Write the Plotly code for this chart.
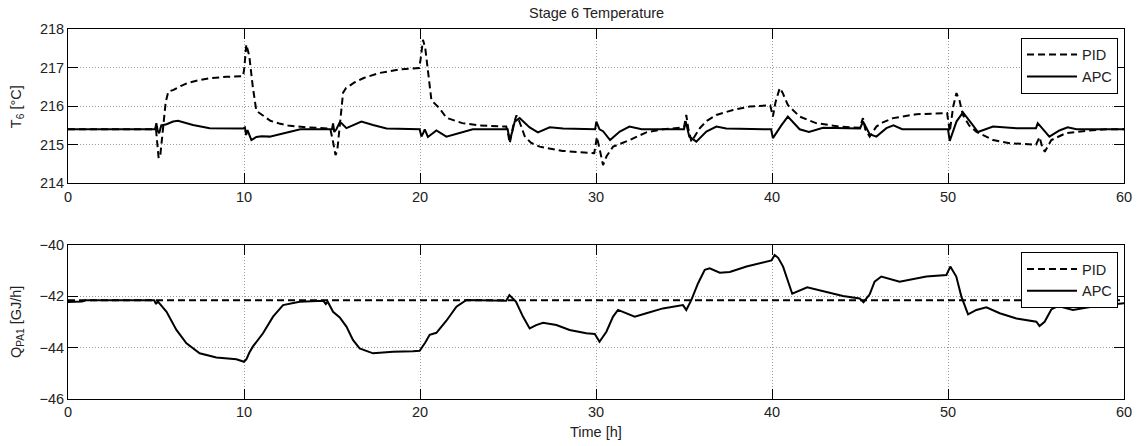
import plotly.graph_objects as go

# ---- Stage 6 temperature, PID control ----
t_T6_pid = [0, 5.0, 5.08, 5.15, 5.25, 5.4, 5.55, 5.7, 6.0, 6.4, 6.8, 7.4, 8.0, 9.0, 9.95,
            10.02, 10.13, 10.3, 10.5, 10.7, 10.95, 11.2, 11.5, 12.0, 12.5, 13.5, 14.9,
            15.05, 15.2, 15.3, 15.45, 15.63, 15.8, 16.3, 16.8, 17.7, 18.8, 19.95,
            20.03, 20.17, 20.3, 20.45, 20.65, 21.1, 21.5, 22.4, 23.4, 24.9,
            25.0, 25.1, 25.3, 25.48, 25.65, 25.95, 26.3, 26.8, 28.1, 29.9,
            30.05, 30.2, 30.4, 30.6, 30.97, 31.9, 32.86, 33.8, 34.75, 35.0,
            35.13, 35.25, 35.42, 35.6, 35.9, 36.3, 36.84, 37.78, 38.73, 39.9,
            40.05, 40.2, 40.44, 40.6, 40.9, 41.57, 42.5, 43.85, 44.98,
            45.17, 45.3, 45.55, 45.93, 46.3, 46.88, 48.2, 49.95,
            50.1, 50.3, 50.48, 50.65, 50.85, 51.2, 51.6, 52.56, 53.5, 55.0,
            55.2, 55.35, 55.5, 55.65, 55.87, 56.7, 57.85, 59.0, 60]
T6_pid = [215.4, 215.4, 215.0, 214.65, 214.75, 215.5, 216.1, 216.38, 216.42, 216.52, 216.6, 216.67, 216.72, 216.76, 216.78,
          217.0, 217.6, 217.3, 216.5, 215.88, 215.8, 215.72, 215.62, 215.55, 215.5, 215.45, 215.42,
          215.1, 214.73, 214.85, 215.6, 216.35, 216.47, 216.62, 216.73, 216.86, 216.95, 216.99,
          217.2, 217.72, 217.5, 216.9, 216.15, 215.95, 215.7, 215.56, 215.5, 215.47,
          215.3, 215.04, 215.5, 215.76, 215.6, 215.22, 215.05, 214.95, 214.84, 214.78,
          215.2, 214.9, 214.47, 214.7, 214.95, 215.12, 215.32, 215.4, 215.43, 215.45,
          215.77, 215.4, 215.08, 215.2, 215.43, 215.62, 215.77, 215.9, 215.99, 216.02,
          215.73, 216.1, 216.47, 216.35, 216.03, 215.73, 215.56, 215.47, 215.44,
          215.69, 215.4, 215.21, 215.47, 215.58, 215.69, 215.79, 215.82,
          215.34, 216.0, 216.34, 216.15, 215.77, 215.5, 215.34, 215.12, 215.04, 215.0,
          215.2, 214.95, 214.82, 214.95, 215.12, 215.3, 215.36, 215.4, 215.4]

# ---- Stage 6 temperature, APC ----
t_T6_apc = [0, 4.95, 5.02, 5.1, 5.18, 5.3, 5.6, 5.97, 6.25, 7.1, 8.05, 9.95,
            10.05, 10.12, 10.2, 10.42, 10.7, 11.0, 11.46, 12.4, 13.2, 15.0,
            15.06, 15.13, 15.25, 15.44, 15.53, 15.82, 16.2, 16.67, 17.33, 18.1, 19.98,
            20.08, 20.18, 20.27, 20.45, 20.7, 20.93, 21.5, 22.44, 23.0, 24.98,
            25.1, 25.25, 25.38, 25.66, 26.23, 26.7, 27.37, 28.13, 29.95,
            30.02, 30.2, 30.4, 30.8, 31.35, 31.9, 32.6, 35.0,
            35.1, 35.3, 35.7, 36.27, 36.84, 37.4, 39.95,
            40.05, 40.53, 40.9, 41.57, 42.1, 42.9, 45.0,
            45.17, 45.55, 45.93, 46.5, 46.9, 47.4, 50.0,
            50.1, 50.48, 50.85, 51.42, 51.7, 52.56, 53.9, 55.0,
            55.1, 55.76, 56.33, 56.8, 57.3, 60]
T6_apc = [215.4, 215.4, 215.56, 215.35, 215.3, 215.5, 215.53, 215.6, 215.62, 215.51, 215.43, 215.42,
          215.45, 215.25, 215.38, 215.12, 215.2, 215.22, 215.21, 215.32, 215.4, 215.4,
          215.55, 215.33, 215.4, 215.58, 215.56, 215.43, 215.5, 215.6, 215.51, 215.42, 215.4,
          215.21, 215.3, 215.4, 215.2, 215.3, 215.37, 215.21, 215.32, 215.4, 215.4,
          215.12, 215.35, 215.6, 215.69, 215.45, 215.32, 215.45, 215.42, 215.4,
          215.6, 215.4, 215.35, 215.12, 215.34, 215.47, 215.4, 215.4,
          215.6, 215.21, 215.08, 215.34, 215.47, 215.42, 215.4,
          215.17, 215.5, 215.73, 215.4, 215.33, 215.44, 215.42,
          215.6, 215.27, 215.21, 215.43, 215.5, 215.4, 215.4,
          215.1, 215.6, 215.84, 215.5, 215.33, 215.47, 215.43, 215.43,
          215.56, 215.21, 215.37, 215.45, 215.4, 215.4]

# ---- Pump-around duty Q_PA1 ----
t_Q_pid = [0, 60]
Q_pid = [-42.15, -42.15]

t_Q_apc = [0, 0.8, 1.0, 4.9, 5.0, 5.1, 5.6, 6.16, 6.73, 7.48, 8.43, 9.57, 10.0, 10.14, 10.3, 10.5,
           11.08, 11.65, 12.22, 13.16, 14.5, 14.65, 14.75, 15.06, 15.44, 15.82, 16.19, 16.57,
           17.33, 18.47, 19.6, 19.98, 20.3, 20.55, 20.93, 21.5, 22.07, 22.64, 24.9,
           25.08, 25.45, 25.85, 26.23, 26.6, 26.99, 27.75, 28.5, 29.45, 29.93,
           30.2, 30.59, 30.97, 31.25, 31.73, 32.2, 32.86, 33.8, 34.94,
           35.13, 35.42, 35.8, 36.18, 36.46, 37.03, 37.6, 38.55, 39.68, 39.97,
           40.15, 40.35, 40.63, 40.91, 41.15, 42.0, 43.09, 44.03, 44.98,
           45.2, 45.55, 45.83, 46.21, 47.25, 48.77, 49.91,
           50.13, 50.47, 50.76, 51.14, 51.61, 52.18, 52.94, 53.89, 55.02,
           55.2, 55.49, 55.87, 56.25, 57.1, 58.24, 60]
Q_apc = [-42.22, -42.2, -42.15, -42.15, -42.3, -42.2, -42.6, -43.31, -43.83, -44.22, -44.38, -44.45, -44.55, -44.45, -44.2, -43.96,
         -43.44, -42.79, -42.34, -42.21, -42.17, -42.3, -42.2, -42.6, -42.82, -43.18, -43.7, -44.03,
         -44.22, -44.16, -44.14, -44.12, -43.8, -43.5, -43.42, -42.95, -42.4, -42.14, -42.17,
         -41.95, -42.2, -42.79, -43.25, -43.12, -43.03, -43.12, -43.31, -43.44, -43.47,
         -43.77, -43.38, -42.79, -42.53, -42.66, -42.79, -42.66, -42.47, -42.34,
         -42.53, -42.14, -41.49, -40.97, -40.91, -41.08, -41.05, -40.84, -40.65, -40.6,
         -40.39, -40.5, -40.84, -41.43, -41.9, -41.65, -41.82, -41.99, -42.08,
         -42.23, -41.92, -41.43, -41.23, -41.43, -41.23, -41.17,
         -40.84, -41.23, -42.01, -42.7, -42.53, -42.43, -42.66, -42.86, -42.99,
         -43.16, -42.99, -42.51, -42.38, -42.53, -42.4, -42.27]

x_ticks = [0, 10, 20, 30, 40, 50, 60]
T6_ticks = [214, 215, 216, 217, 218]
Q_ticks = [-46, -44, -42, -40]

FONT = "Arial, Liberation Sans, sans-serif"
FS = 14.5
DASH = "7px,4px"

fig = go.Figure()
fig.add_trace(go.Scatter(x=t_T6_pid, y=T6_pid, mode="lines", name="PID",
                         line=dict(color="black", width=2, dash=DASH),
                         xaxis="x", yaxis="y", legend="legend"))
fig.add_trace(go.Scatter(x=t_T6_apc, y=T6_apc, mode="lines", name="APC",
                         line=dict(color="black", width=2),
                         xaxis="x", yaxis="y", legend="legend"))
fig.add_trace(go.Scatter(x=t_Q_pid, y=Q_pid, mode="lines", name="PID",
                         line=dict(color="black", width=2, dash=DASH),
                         xaxis="x2", yaxis="y2", legend="legend2"))
fig.add_trace(go.Scatter(x=t_Q_apc, y=Q_apc, mode="lines", name="APC",
                         line=dict(color="black", width=2),
                         xaxis="x2", yaxis="y2", legend="legend2"))

axis_common = dict(
    showline=True, linecolor="black", linewidth=1, mirror="ticks",
    ticks="inside", ticklen=10, tickwidth=1, tickcolor="black",
    showgrid=True, gridcolor="#9a9a9a", gridwidth=1, griddash="1px,2px",
    zeroline=False, tickfont=dict(family=FONT, size=FS, color="#222"),
)

legend_common = dict(
    xanchor="right", yanchor="top", bgcolor="white", bordercolor="black",
    borderwidth=1, font=dict(family=FONT, size=FS, color="#222"),
    tracegroupgap=0, itemwidth=50,
)

fig.update_layout(
    width=1144, height=446,
    margin=dict(l=68, r=20, t=29, b=47),
    plot_bgcolor="white", paper_bgcolor="white",
    font=dict(family=FONT, size=FS, color="#222"),
    xaxis=dict(axis_common, domain=[0, 1], range=[0, 60], tickvals=x_ticks, anchor="y"),
    yaxis=dict(axis_common, domain=[0.583, 1.0], range=[214, 218], tickvals=T6_ticks, anchor="x"),
    xaxis2=dict(axis_common, domain=[0, 1], range=[0, 60], tickvals=x_ticks, anchor="y2"),
    yaxis2=dict(axis_common, domain=[0, 0.4162], range=[-46, -40], tickvals=Q_ticks, anchor="x2"),
    legend=dict(legend_common, x=0.9943, y=0.9765),
    legend2=dict(legend_common, x=0.9943, y=0.3973),
    annotations=[
        dict(text="Stage 6 Temperature", xref="paper", yref="paper", x=0.5, y=1.0424,
             xanchor="center", yanchor="middle", showarrow=False,
             font=dict(family=FONT, size=FS, color="#222")),
        dict(text="Time [h]", xref="paper", yref="paper", x=0.5, y=-0.0884,
             xanchor="center", yanchor="middle", showarrow=False,
             font=dict(family=FONT, size=FS, color="#222")),
        dict(text="T<sub>6</sub> [°C]", xref="paper", yref="paper", x=-0.0483, y=0.7915,
             xanchor="center", yanchor="middle", textangle=-90, showarrow=False,
             font=dict(family=FONT, size=FS, color="#222")),
        dict(text="Q<sub>PA1</sub> [GJ/h]", xref="paper", yref="paper", x=-0.0483, y=0.2081,
             xanchor="center", yanchor="middle", textangle=-90, showarrow=False,
             font=dict(family=FONT, size=FS, color="#222")),
    ],
)

fig.write_html("out.html")
